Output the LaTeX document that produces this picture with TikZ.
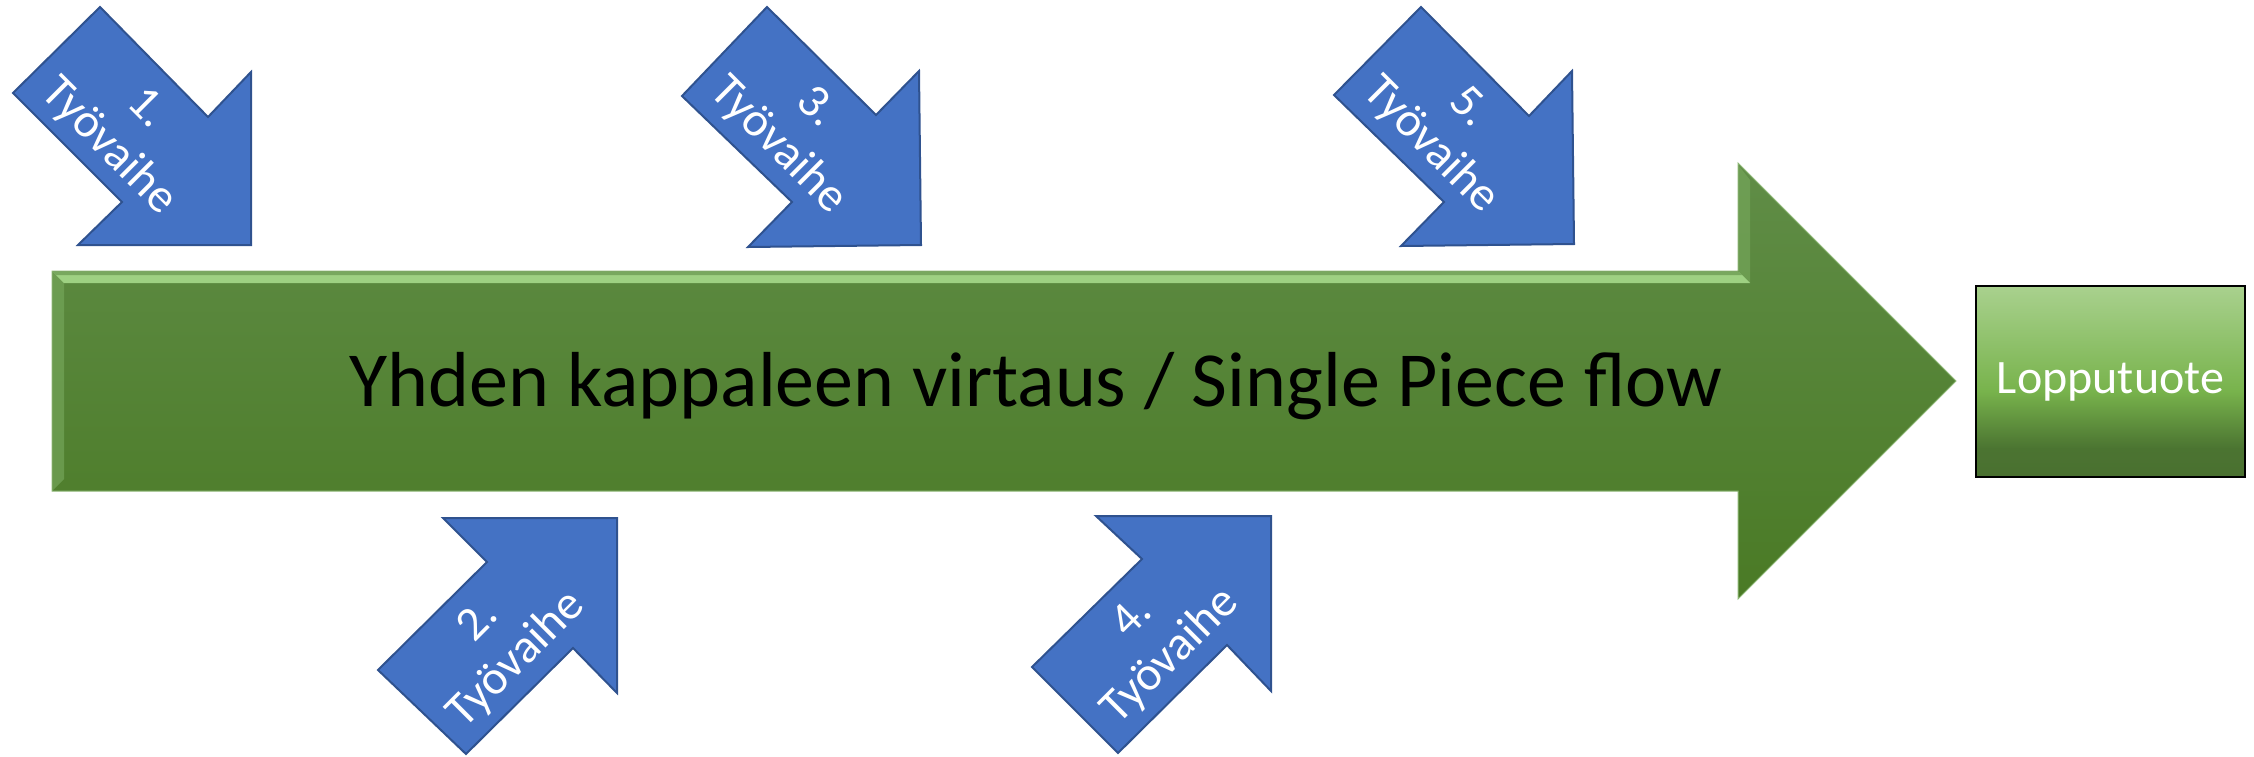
\documentclass[tikz,border=0pt]{standalone}
\usepackage{fontspec}
\setmainfont{Carlito}
\definecolor{stepblue}{HTML}{4472C4}
\definecolor{stepedge}{HTML}{2F528F}
\definecolor{flowtop}{HTML}{608D47}
\definecolor{flowbot}{HTML}{4A7A25}
\definecolor{flowedge}{HTML}{8DB775}
\definecolor{bevelhi}{HTML}{A6DA8A}
\definecolor{bevelside}{HTML}{74A559}
\definecolor{loptop}{HTML}{A9D18E}
\definecolor{lopmid}{HTML}{78B34C}
\definecolor{lopdark}{HTML}{4B7431}
\definecolor{lopbot}{HTML}{4A7030}
% vertical shading of the end-product box (0bp = bottom)
\pgfdeclareverticalshading{lopshade}{100bp}{%
  color(0bp)=(lopbot); color(25bp)=(lopbot); color(32.5bp)=(lopdark);
  color(47.5bp)=(lopmid); color(75bp)=(loptop); color(100bp)=(loptop)}
\begin{document}
\begin{tikzpicture}[x=0.5pt,y=-0.5pt,
  blueshape/.style={fill=stepblue, draw=stepedge, line width=1pt, line join=miter},
  steplabel/.style={text=white, font=\fontsize{24}{27}\selectfont, align=center, inner sep=0pt},
  flowshape/.style={top color=flowtop, bottom color=flowbot, draw=flowedge, line width=0.5pt},
  productbox/.style={draw=black, line width=1pt, shade, shading=lopshade,
    minimum width=134.5pt, minimum height=95.5pt, inner sep=0pt,
    text=white, font=\fontsize{24}{28}\selectfont},
]
\useasboundingbox (0,0) rectangle (2254,756);

% main flow arrow
\draw[flowshape] (52,271) -- (1738,271) -- (1738,163) -- (1956,381)
  -- (1738,599) -- (1738,491) -- (52,491) -- cycle;
% bevel highlights
\fill[bevelside, opacity=0.7] (53,272) -- (64,283) -- (64,479) -- (53,490) -- cycle;
\fill[bevelside, opacity=0.7] (1739,166) -- (1750,180) -- (1750,283) -- (1739,272) -- cycle;
\fill[bevelhi, opacity=0.9] (53,272) -- (1739,272) -- (1750,283) -- (64,283) -- cycle;
\fill[flowtop, opacity=0.6] (53,272) -- (1739,272) -- (1742,275) -- (56,275) -- cycle;

\node[font=\fontsize{39}{47}\selectfont, anchor=base, inner sep=0pt] (flowtext)
  at (1036,406) {Yhden kappaleen virtaus / Single Piece flow};

% end product
\node[productbox] (product) at (2110.5,381.5) {Lopputuote};

% work phases above the flow
\draw[blueshape] (100,7) -- (208,117) -- (251,72) -- (251,245) -- (78,245)
  -- (122,202) -- (13,93) -- cycle;
\draw[blueshape] (767,7) -- (876,115) -- (919,71) -- (921,245) -- (748,247)
  -- (792,202) -- (682,96) -- cycle;
\draw[blueshape] (1421,7) -- (1529,116) -- (1572,71) -- (1574,244) -- (1401,246)
  -- (1444,202) -- (1334,95) -- cycle;
% work phases below the flow
\draw[blueshape] (443,518) -- (617,518) -- (617,693) -- (573,648) -- (466,754)
  -- (378,670) -- (487,562) -- cycle;
\draw[blueshape] (1096,516) -- (1271,516) -- (1271,691) -- (1227,645) -- (1118,753)
  -- (1032,667) -- (1142,559) -- cycle;

\node[steplabel, rotate=-45] (phase1) at (127,128) {1.\\Työvaihe};
\node[steplabel, rotate=45]  (phase2) at (498,641) {2.\\Työvaihe};
\node[steplabel, rotate=-45] (phase3) at (797,127) {3.\\Työvaihe};
\node[steplabel, rotate=45]  (phase4) at (1152,638) {4.\\Työvaihe};
\node[steplabel, rotate=-45] (phase5) at (1449,127) {5.\\Työvaihe};
\end{tikzpicture}
\end{document}
